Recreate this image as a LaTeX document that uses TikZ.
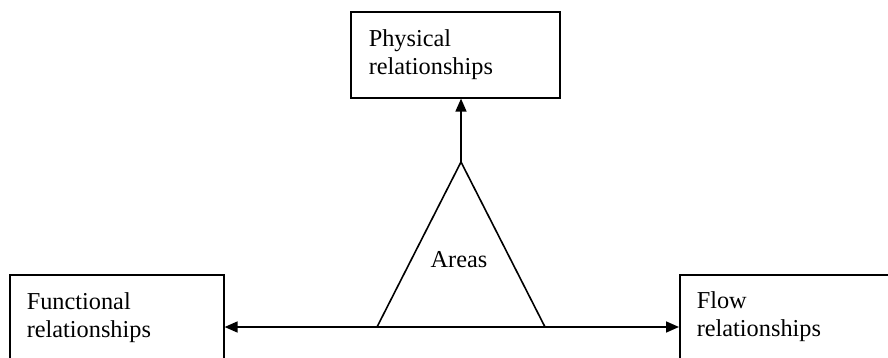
\documentclass[tikz,border=0pt]{standalone}
\usepackage{fontspec}
\setmainfont{Liberation Serif}
\usetikzlibrary{arrows.meta}
\begin{document}
\begin{tikzpicture}[x=1pt,y=-1pt,
  line width=1.6pt,
  box/.style={draw, line width=1.6pt, rectangle, inner sep=0pt, anchor=north west},
  txt/.style={anchor=base west, inner sep=0pt, font=\fontsize{24.3}{28}\selectfont},
  link/.style={-{Triangle[length=13pt,width=11pt]}, line width=1.6pt}]
  \useasboundingbox (0,0) rectangle (888,358);
  \clip (0,0) rectangle (888,358);
  \fill[white] (0,0) rectangle (888,358);

  % the three boxes (the lower two run past the edge of the page)
  \node[box, minimum width=209pt, minimum height=86pt] (phys) at (350,11) {};
  \node[box, minimum width=214pt, minimum height=120pt] (func) at (9,274) {};
  \node[box, minimum width=240pt, minimum height=120pt] (flow) at (679,274) {};

  % box texts
  \node[txt] (physA) at (368,47) {Physical};
  \node[txt] (physB) at (368,75) {relationships};
  \node[txt] (funcA) at (26,309) {Functional};
  \node[txt] (funcB) at (26,337) {relationships};
  \node[txt] (flowA) at (696,308) {Flow};
  \node[txt] (flowB) at (696,336) {relationships};

  % central triangle
  \coordinate (apex) at (461,162);
  \coordinate (bl) at (377,327);
  \coordinate (br) at (545,327);
  \draw[line join=miter] (apex) -- (bl) -- (br) -- cycle;
  \node[txt, anchor=base] (areas) at (459,267) {Areas};

  % connectors
  \draw[link] (apex) -- (apex |- phys.south);
  \draw[link] (bl) -- (bl -| func.east);
  \draw[link] (br) -- (br -| flow.west);
\end{tikzpicture}
\end{document}
